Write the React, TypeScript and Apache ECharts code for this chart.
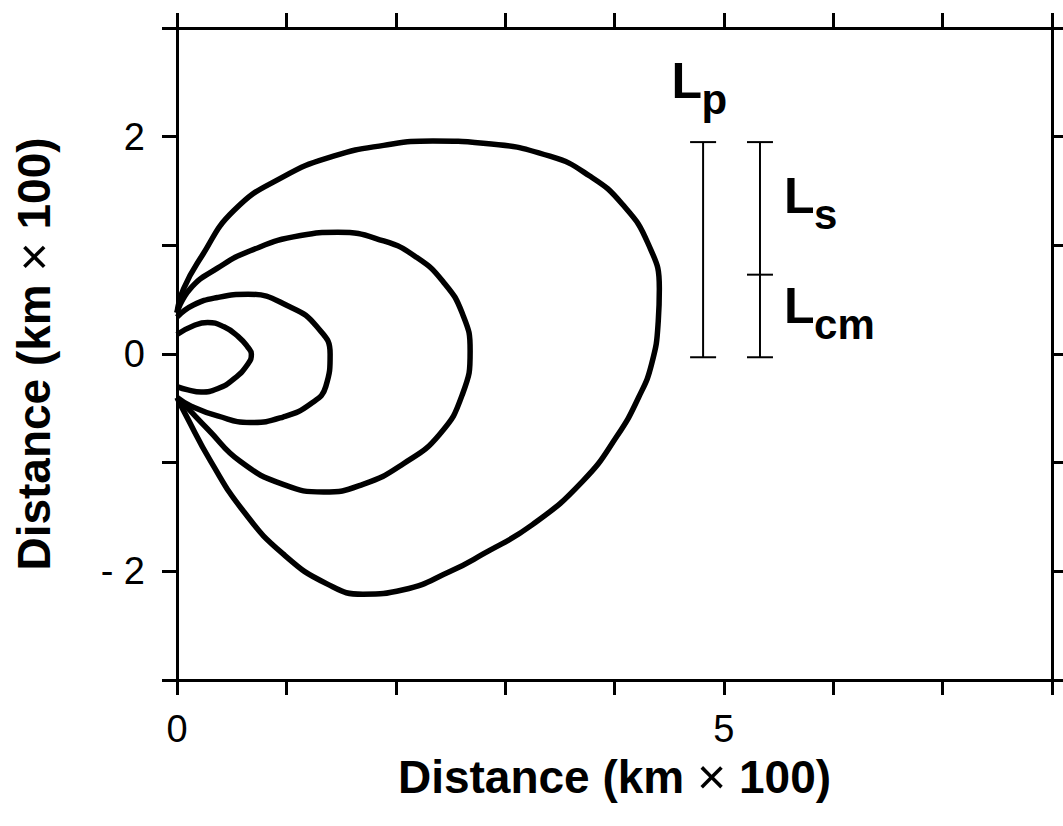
import React, { useEffect, useRef } from "react";
import * as echarts from "echarts";

// Contour curves (x, y) in km x 100, innermost to outermost
const curve1: number[][] = [
  [0, 0.18], [0.15, 0.26], [0.28, 0.29], [0.43, 0.25], [0.56, 0.16], [0.65, 0.06],
  [0.68, 0.0], [0.65, -0.09], [0.52, -0.23], [0.37, -0.32], [0.22, -0.35], [0.1, -0.33],
  [0, -0.3],
];
const curve2: number[][] = [
  [0, 0.34], [0.15, 0.45], [0.37, 0.52], [0.65, 0.55], [1.04, 0.43], [1.28, 0.25],
  [1.4, 0.0], [1.36, -0.3], [1.22, -0.46], [0.97, -0.58], [0.67, -0.63], [0.37, -0.57],
  [0.13, -0.48], [0, -0.4],
];
const curve3: number[][] = [
  [0, 0.38], [0.12, 0.6], [0.37, 0.79], [0.67, 0.95], [1.13, 1.09], [1.47, 1.12],
  [1.89, 1.04], [2.19, 0.89], [2.43, 0.67], [2.61, 0.37], [2.68, 0.03], [2.61, -0.37],
  [2.4, -0.74], [2.07, -1.01], [1.7, -1.2], [1.34, -1.27], [0.97, -1.2], [0.58, -0.99],
  [0.28, -0.69], [0.08, -0.48], [0, -0.4],
];
const curve4: number[][] = [
  [0, 0.38], [0.06, 0.6], [0.22, 0.89], [0.52, 1.32], [0.97, 1.63], [1.43, 1.82],
  [1.89, 1.92], [2.34, 1.96], [2.8, 1.94], [3.41, 1.82], [3.77, 1.64], [4.07, 1.38],
  [4.31, 1.01], [4.41, 0.6], [4.4, 0.3], [4.34, -0.09], [4.22, -0.4], [4.02, -0.76],
  [3.71, -1.17], [3.25, -1.57], [2.8, -1.84], [2.5, -2.0], [2.07, -2.17], [1.7, -2.21],
  [1.38, -2.12], [0.97, -1.84], [0.61, -1.45], [0.31, -0.99], [0.08, -0.56], [0, -0.4],
];

// Length-scale bars: [x, low, high]
const scaleBars: number[][] = [
  [4.81, -0.03, 1.95],
  [5.33, -0.03, 1.95],
];
// Division tick on the second bar: [x, y]
const scaleDividers: number[][] = [[5.33, 0.73]];

// Bar labels
const labelPos: number[][] = [
  [4.52, 2.28],
  [5.55, 1.22],
  [5.55, 0.21],
];
const labelMain: string[] = ["L", "L", "L"];
const labelSub: string[] = ["p", "s", "cm"];

const xLabels: number[] = [0, 5];
const yLabels: number[] = [-2, 0, 2];
const axisTitle = "Distance (km {x|×} 100)";

const FONT = "'Liberation Sans', Arial, Helvetica, sans-serif";

export default function App() {
  const ref = useRef<HTMLDivElement>(null);

  useEffect(() => {
    document.body.style.margin = "0";
    const chart = echarts.init(ref.current!, null, { renderer: "svg" });

    const lineAxis = { show: true, onZero: false, lineStyle: { color: "#000", width: 3 } };
    const tick = { show: true, inside: false, length: 15, lineStyle: { color: "#000", width: 3 } };
    const titleStyle = {
      fontFamily: FONT,
      fontWeight: "bold",
      fontSize: 46,
      lineHeight: 46,
      color: "#000",
      rich: { x: { fontFamily: FONT, fontWeight: "normal", fontSize: 50, lineHeight: 46, color: "#000" } },
    };

    const curveSeries = [curve1, curve2, curve3, curve4].map((c, i) => ({
      type: "line",
      name: "c" + (i + 1),
      data: c,
      showSymbol: false,
      smooth: 0.5,
      lineStyle: { color: "#000", width: 5.5 },
      xAxisIndex: 0,
      yAxisIndex: 0,
      z: 3,
    }));

    const option: any = {
      animation: false,
      backgroundColor: "#fff",
      grid: { left: 177, right: 11, top: 28, bottom: 146, containLabel: false, outerBoundsMode: "none" },
      xAxis: [
        {
          type: "value",
          position: "bottom",
          min: 0,
          max: 8,
          interval: 1,
          axisLine: lineAxis,
          axisTick: tick,
          splitLine: { show: false },
          axisLabel: {
            margin: 32,
            fontFamily: FONT,
            fontSize: 38,
            lineHeight: 34,
            color: "#000",
            formatter: (v: number) => (xLabels.includes(v) ? String(v) : ""),
          },
          name: axisTitle,
          nameLocation: "middle",
          nameGap: 74,
          nameMoveOverlap: false,
          nameTextStyle: titleStyle,
        },
        {
          type: "value",
          position: "top",
          min: 0,
          max: 8,
          interval: 1,
          axisLine: lineAxis,
          axisTick: tick,
          splitLine: { show: false },
          axisLabel: { show: false },
        },
      ],
      yAxis: [
        {
          type: "value",
          position: "left",
          min: -3,
          max: 3,
          interval: 1,
          axisLine: lineAxis,
          axisTick: tick,
          splitLine: { show: false },
          axisLabel: {
            margin: 32,
            fontFamily: FONT,
            fontSize: 38,
            color: "#000",
            formatter: (v: number) => (yLabels.includes(v) ? (v < 0 ? "- " + Math.abs(v) : String(v)) : ""),
          },
          name: axisTitle,
          nameLocation: "middle",
          nameGap: 120,
          nameTextStyle: titleStyle,
        },
        {
          type: "value",
          position: "right",
          min: -3,
          max: 3,
          interval: 1,
          axisLine: lineAxis,
          axisTick: tick,
          splitLine: { show: false },
          axisLabel: { show: false },
        },
      ],
      series: [
        ...curveSeries,
        {
          type: "custom",
          name: "bars",
          xAxisIndex: 0,
          yAxisIndex: 0,
          data: scaleBars,
          z: 4,
          renderItem: (params: any, api: any) => {
            const x = api.value(0);
            const lo = api.coord([x, api.value(1)]);
            const hi = api.coord([x, api.value(2)]);
            const st = { stroke: "#000", lineWidth: 2 };
            const hw = 13;
            return {
              type: "group",
              children: [
                { type: "line", shape: { x1: lo[0], y1: lo[1], x2: hi[0], y2: hi[1] }, style: st },
                { type: "line", shape: { x1: lo[0] - hw, y1: lo[1], x2: lo[0] + hw, y2: lo[1] }, style: st },
                { type: "line", shape: { x1: hi[0] - hw, y1: hi[1], x2: hi[0] + hw, y2: hi[1] }, style: st },
              ],
            };
          },
        },
        {
          type: "custom",
          name: "dividers",
          xAxisIndex: 0,
          yAxisIndex: 0,
          data: scaleDividers,
          z: 4,
          renderItem: (params: any, api: any) => {
            const p = api.coord([api.value(0), api.value(1)]);
            return {
              type: "line",
              shape: { x1: p[0] - 13, y1: p[1], x2: p[0] + 13, y2: p[1] },
              style: { stroke: "#000", lineWidth: 2 },
            };
          },
        },
        {
          type: "custom",
          name: "labels",
          xAxisIndex: 0,
          yAxisIndex: 0,
          data: labelPos,
          z: 5,
          renderItem: (params: any, api: any) => {
            const p = api.coord([api.value(0), api.value(1)]);
            const i = params.dataIndex;
            return {
              type: "group",
              children: [
                {
                  type: "text",
                  x: p[0],
                  y: p[1],
                  style: {
                    text: labelMain[i],
                    font: `bold 50px ${FONT}`,
                    fill: "#000",
                    textAlign: "left",
                    textVerticalAlign: "bottom",
                  },
                },
                {
                  type: "text",
                  x: p[0] + 30,
                  y: p[1] + 14,
                  style: {
                    text: labelSub[i],
                    font: `bold 42px ${FONT}`,
                    fill: "#000",
                    textAlign: "left",
                    textVerticalAlign: "bottom",
                  },
                },
              ],
            };
          },
        },
      ],
    };

    chart.setOption(option);
    return () => chart.dispose();
  }, []);

  return <div ref={ref} style={{ width: 1063, height: 826 }} />;
}
